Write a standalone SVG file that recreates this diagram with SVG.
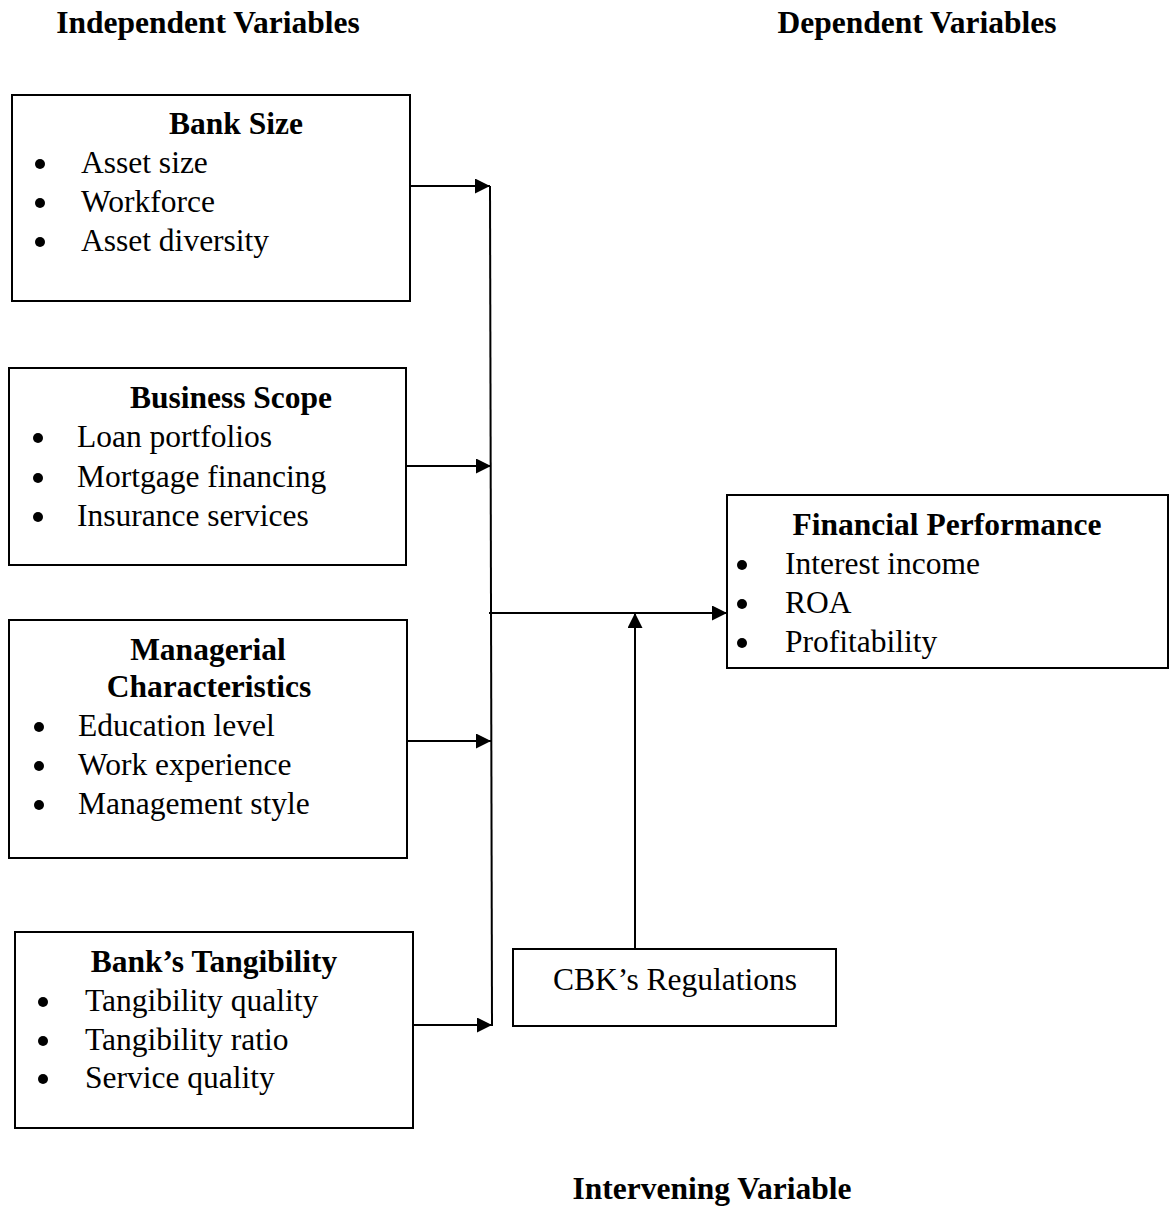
<svg xmlns="http://www.w3.org/2000/svg" width="1174" height="1207" viewBox="0 0 1174 1207">
<style>
.box{fill:#fff;stroke:#000;stroke-width:2}
.t{font-family:"Liberation Serif","Times New Roman",serif;font-size:31.5px;fill:#000}
.b{font-weight:bold;text-anchor:middle}
.c{stroke:#000;stroke-width:2;fill:none}
.a{marker-end:url(#ah)}
.dot{fill:#000}
</style>
<defs>
<marker id="ah" markerUnits="userSpaceOnUse" markerWidth="16" markerHeight="15" refX="15" refY="7.5" orient="auto">
<path d="M0,0 L15,7.5 L0,15 z" fill="#000"/>
</marker>
</defs>
<rect width="1174" height="1207" fill="#fff"/>
<text class="t b" x="208" y="33">Independent Variables</text>
<text class="t b" x="917" y="33">Dependent Variables</text>
<text class="t b" x="712" y="1199">Intervening Variable</text>

<g id="bank-size">
<rect class="box" x="12" y="95" width="398" height="206"/>
<text class="t b" x="236" y="134">Bank Size</text>
<circle class="dot" cx="40" cy="164" r="5"/><text class="t" x="81" y="173">Asset size</text>
<circle class="dot" cx="40" cy="203" r="5"/><text class="t" x="81" y="212">Workforce</text>
<circle class="dot" cx="40" cy="242" r="5"/><text class="t" x="81" y="251">Asset diversity</text>
</g>

<g id="business-scope">
<rect class="box" x="9" y="368" width="397" height="197"/>
<text class="t b" x="231" y="408">Business Scope</text>
<circle class="dot" cx="38" cy="438" r="5"/><text class="t" x="77" y="447">Loan portfolios</text>
<circle class="dot" cx="38" cy="478" r="5"/><text class="t" x="77" y="487">Mortgage financing</text>
<circle class="dot" cx="38" cy="517" r="5"/><text class="t" x="77" y="526">Insurance services</text>
</g>

<g id="managerial">
<rect class="box" x="9" y="620" width="398" height="238"/>
<text class="t b" x="208" y="660">Managerial</text>
<text class="t b" x="209" y="697">Characteristics</text>
<circle class="dot" cx="39" cy="727" r="5"/><text class="t" x="78" y="736">Education level</text>
<circle class="dot" cx="39" cy="766" r="5"/><text class="t" x="78" y="775">Work experience</text>
<circle class="dot" cx="39" cy="805" r="5"/><text class="t" x="78" y="814">Management style</text>
</g>

<g id="tangibility">
<rect class="box" x="15" y="932" width="398" height="196"/>
<text class="t b" x="214" y="972">Bank’s Tangibility</text>
<circle class="dot" cx="43" cy="1002" r="5"/><text class="t" x="85" y="1011">Tangibility quality</text>
<circle class="dot" cx="43" cy="1041" r="5"/><text class="t" x="85" y="1050">Tangibility ratio</text>
<circle class="dot" cx="43" cy="1079" r="5"/><text class="t" x="85" y="1088">Service quality</text>
</g>

<g id="financial-performance">
<rect class="box" x="727" y="495" width="441" height="173"/>
<text class="t b" x="947" y="535">Financial Performance</text>
<circle class="dot" cx="742" cy="565" r="5"/><text class="t" x="785" y="574">Interest income</text>
<circle class="dot" cx="742" cy="604" r="5"/><text class="t" x="785" y="613">ROA</text>
<circle class="dot" cx="742" cy="643" r="5"/><text class="t" x="785" y="652">Profitability</text>
</g>

<g id="cbk">
<rect class="box" x="513" y="949" width="323" height="77"/>
<text class="t" x="675" y="990" text-anchor="middle">CBK’s Regulations</text>
</g>

<g id="connectors">
<line class="c" x1="490" y1="186" x2="492" y2="1026"/>
<line class="c a" x1="410" y1="186" x2="490" y2="186"/>
<line class="c a" x1="406" y1="466" x2="491" y2="466"/>
<line class="c a" x1="407" y1="741" x2="491" y2="741"/>
<line class="c a" x1="413" y1="1025" x2="492" y2="1025"/>
<line class="c a" x1="489" y1="613" x2="727" y2="613"/>
<line class="c a" x1="635" y1="949" x2="635" y2="613"/>
</g>
</svg>
